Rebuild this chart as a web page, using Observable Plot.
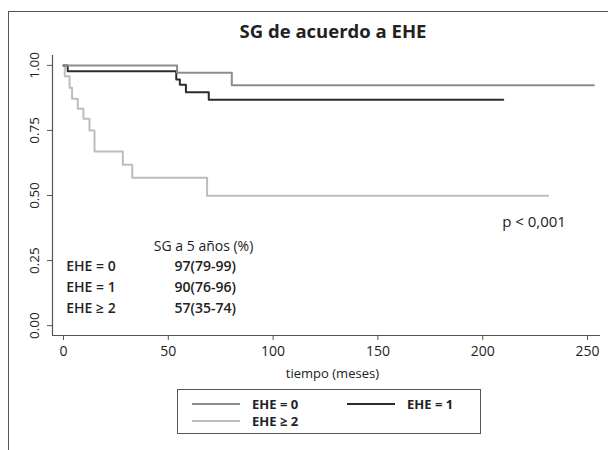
<!DOCTYPE html>
<html><head><meta charset="utf-8">
<script src="https://cdn.jsdelivr.net/npm/d3@7"></script>
<script src="https://cdn.jsdelivr.net/npm/@observablehq/plot@0.6"></script>
<style>
body{margin:0;background:#fff;font-family:"Open Sans",sans-serif;color:#222;}
#wrap{position:relative;width:608px;height:450px;overflow:hidden;background:#fff;}
#frame{position:absolute;left:8px;top:11px;width:700px;height:600px;border-top:1.5px solid #555;border-left:1.5px solid #555;}
#title{position:absolute;left:0;width:666px;top:18px;text-align:center;font-weight:700;font-size:18.5px;color:#222;}
#chart{position:absolute;left:0;top:0;}
#legend{position:absolute;left:177px;top:389px;width:304px;height:45px;border:1px solid #555;box-sizing:border-box;}
.item{position:absolute;height:16px;display:flex;align-items:center;}
.item span{font-weight:700;font-size:13px;margin-left:12px;color:#222;}
</style>
</head><body>
<div id="wrap">
  <div id="frame"></div>
  <div id="chart"></div>
  <div id="title">SG de acuerdo a EHE</div>
  <div id="legend"></div>
</div>
<script>
// ---- data ----
const groups = ["EHE = 0", "EHE = 1", "EHE ≥ 2"];
const colors = ["#8c8c8c", "#2b2b2b", "#bdbdbd"];

const ehe0Time = [0, 54.2, 80.3, 253];
const ehe0Surv = [1, 0.972, 0.924, 0.924];

const ehe1Time = [0, 2, 53.8, 55.5, 58.4, 69.3, 209.8];
const ehe1Surv = [1, 0.977, 0.946, 0.926, 0.897, 0.868, 0.868];

const ehe2Time = [0, 0.6, 2.9, 4.1, 6.8, 9.5, 12.4, 14.8, 28.3, 32.8, 68.5, 231.2];
const ehe2Surv = [1, 0.958, 0.914, 0.872, 0.833, 0.795, 0.75, 0.669, 0.618, 0.568, 0.499, 0.499];

const xTicks = [0, 50, 100, 150, 200, 250];
const yTicks = [0, 0.25, 0.5, 0.75, 1];
const yTickLabels = ["0.00", "0.25", "0.50", "0.75", "1.00"];

const tableHeader = "SG a 5 años (%)";
const sg5 = ["97(79-99)", "90(76-96)", "57(35-74)"];
const tableRowY = [0.227, 0.147, 0.067];
const pValue = "p < 0,001";
const xLabel = "tiempo (meses)";

// ---- build rows ----
const series = [[ehe0Time, ehe0Surv], [ehe1Time, ehe1Surv], [ehe2Time, ehe2Surv]];
const rows = [];
series.forEach(([t, s], gi) => t.forEach((ti, i) => rows.push({group: groups[gi], t: ti, s: s[i]})));
const drawOrder = [groups[2], groups[1], groups[0]];

const xDomain = [-5.25, 256.2];
const yDomain = [-0.038, 1.038];
const axisColor = "#555";

const chart = Plot.plot({
  width: 608, height: 450,
  marginLeft: 52, marginRight: 8, marginTop: 55, marginBottom: 115,
  style: {fontFamily: '"Open Sans", sans-serif', color: "#222", background: "transparent"},
  x: {domain: xDomain},
  y: {domain: yDomain},
  color: {domain: groups, range: colors},
  marks: [
    // axis lines
    Plot.ruleX([xDomain[0]], {stroke: axisColor, strokeWidth: 1.2}),
    Plot.ruleY([yDomain[0]], {stroke: axisColor, strokeWidth: 1.2}),
    // ticks
    Plot.axisX({ticks: xTicks, tickSize: 5, tickPadding: 6, fontSize: 14, label: null, stroke: axisColor, tickFormat: d => String(d)}),
    Plot.axisY({ticks: yTicks, tickSize: 5, tickFormat: () => "", label: null, stroke: axisColor}),
    Plot.text(yTicks, {y: d => d, text: (d, i) => yTickLabels[i], frameAnchor: "left", dx: -18, rotate: -90, textAnchor: "middle", fontSize: 13.5, fill: "#222"}),
    Plot.text([xLabel], {x: 128.3, frameAnchor: "bottom", dy: 42, fontSize: 13, fill: "#222"}),
    // survival curves
    ...drawOrder.map(g => Plot.line(rows.filter(r => r.group === g), {x: "t", y: "s", stroke: "group", strokeWidth: 2, curve: "step-after"})),
    // annotations
    Plot.text([tableHeader], {x: 43.1, y: 0.305, text: d => d, textAnchor: "start", fontSize: 14, fontWeight: 500, fill: "#222"}),
    Plot.text(groups, {x: 1.3, y: (d, i) => tableRowY[i], text: d => d, textAnchor: "start", fontSize: 14, fontWeight: 600, fill: "#222"}),
    Plot.text(sg5, {x: 53, y: (d, i) => tableRowY[i], text: d => d, textAnchor: "start", fontSize: 14, fontWeight: 600, fill: "#222"}),
    Plot.text([pValue], {x: 209.3, y: 0.396, text: d => d, textAnchor: "start", fontSize: 15, fontWeight: 500, fill: "#222"})
  ]
});
document.getElementById("chart").appendChild(chart);

// ---- legend ----
const legend = document.getElementById("legend");
groups.forEach((g, i) => {
  const col = i % 2, row = Math.floor(i / 2);
  const item = document.createElement("div");
  item.className = "item";
  item.style.left = (14 + col * 155) + "px";
  item.style.top = (6 + row * 16.5) + "px";
  item.innerHTML = `<svg width="48" height="4"><line x1="0" y1="2" x2="48" y2="2" stroke="${colors[i]}" stroke-width="2"/></svg><span>${g}</span>`;
  legend.appendChild(item);
});
</script>
</body></html>
